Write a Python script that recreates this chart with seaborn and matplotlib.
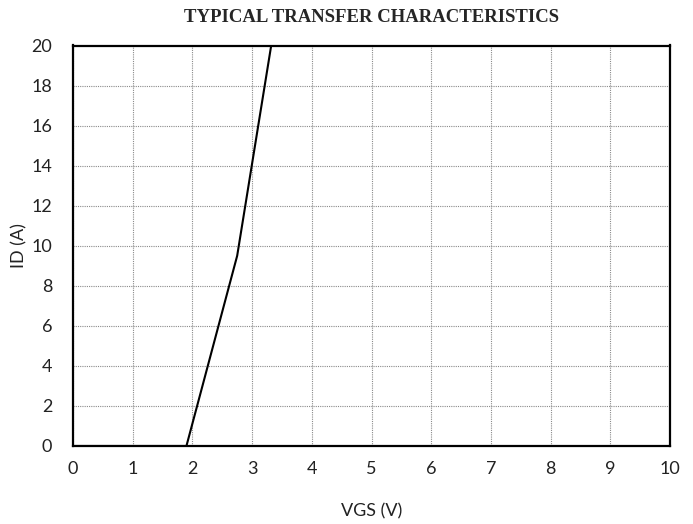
import matplotlib
matplotlib.use("Agg")
import matplotlib.pyplot as plt
import seaborn as sns
import pandas as pd

# Transfer curve: drain current vs gate-source voltage
vgs = [0.0, 1.9, 2.75, 3.32]
id_a = [0.0, 0.0, 9.5, 20.0]
x_ticks = [0, 1, 2, 3, 4, 5, 6, 7, 8, 9, 10]
y_ticks = [0, 2, 4, 6, 8, 10, 12, 14, 16, 18, 20]

sns.set_style("white")
plt.rcParams["font.family"] = ["Lato", "DejaVu Sans"]

df = pd.DataFrame({"VGS": vgs, "ID": id_a})

fig = plt.figure(figsize=(6.93, 5.24), dpi=100)
ax = fig.add_axes([73 / 693, 1 - 446 / 524, (670 - 73) / 693, (446 - 45.5) / 524])

sns.lineplot(data=df, x="VGS", y="ID", ax=ax, color="black", linewidth=1.5,
             sort=False, clip_on=True, zorder=3)

ax.set_xlim(0, 10)
ax.set_ylim(0, 20)
ax.set_xticks(x_ticks)
ax.set_yticks(y_ticks)
ax.grid(True, color="#8a8a8a", linestyle=(0, (1, 1)), linewidth=0.8)
ax.set_axisbelow(True)
for s in ax.spines.values():
    s.set_color("black")
    s.set_linewidth(1.6)
ax.tick_params(axis="both", length=0, labelsize=13, colors="#222222")
ax.tick_params(axis="x", pad=11)
ax.tick_params(axis="y", pad=15)

ax.set_xlabel("VGS (V)", fontsize=13, labelpad=19, color="#222222")
ax.set_ylabel("ID (A)", fontsize=13, color="#222222", va="center")
ax.yaxis.set_label_coords(-0.089, 0.5)
ax.set_title("TYPICAL TRANSFER CHARACTERISTICS", fontsize=13.5, fontweight="bold",
             family=["Liberation Serif", "DejaVu Serif"], pad=17)

fig.savefig("out.png", dpi=100)
